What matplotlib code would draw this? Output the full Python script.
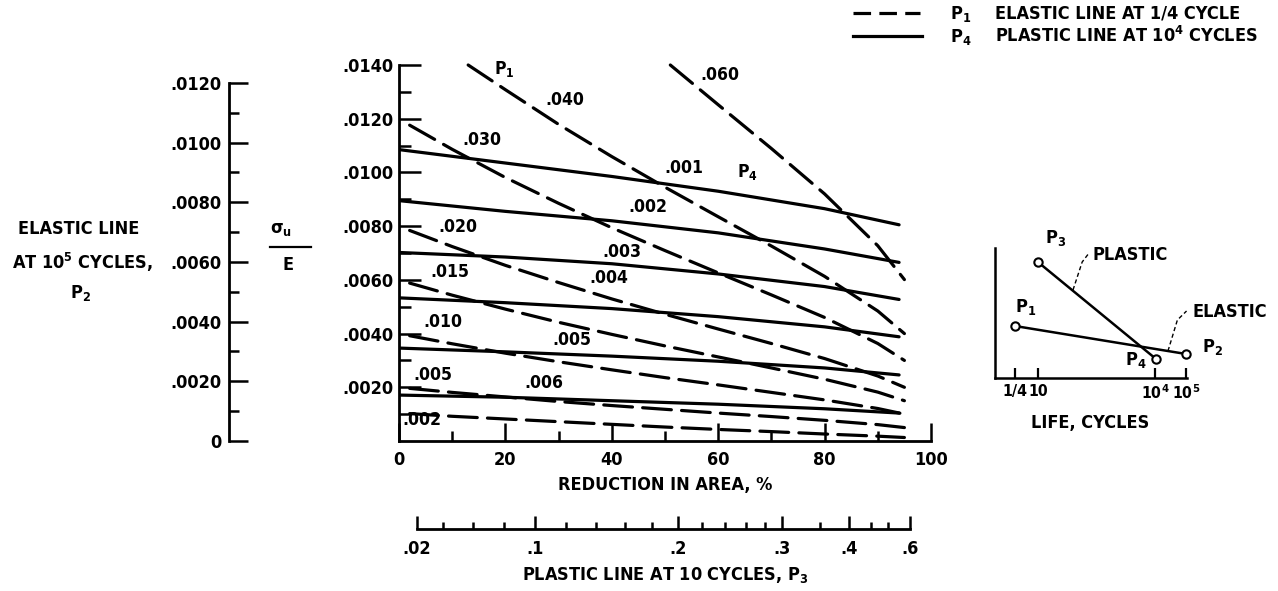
import os
import numpy as np
import matplotlib
matplotlib.use("Agg")
import matplotlib.pyplot as plt
from matplotlib import font_manager as fm
from matplotlib.lines import Line2D

# ---------------- data ----------------
# Dashed lines: P1, elastic line at 1/4 cycle (x = reduction in area %, y = sigma_u/E)
ra_elastic = [2, 10, 20, 30, 40, 50, 60, 70, 80, 90, 95]
p1_002 = [0.00102, 0.00092, 0.00082, 0.00072, 0.00062, 0.00052, 0.00043, 0.00035, 0.00026, 0.00018, 0.00013]
p1_005 = [0.00196, 0.00181, 0.00164, 0.00147, 0.00132, 0.00118, 0.00104, 0.00091, 0.00077, 0.00061, 0.00050]
p1_010 = [0.00392, 0.00362, 0.00327, 0.00295, 0.00265, 0.00236, 0.00209, 0.00181, 0.00153, 0.00121, 0.00100]
p1_015 = [0.00588, 0.00543, 0.00491, 0.00442, 0.00397, 0.00354, 0.00313, 0.00272, 0.00230, 0.00182, 0.00150]
p1_020 = [0.00784, 0.00724, 0.00654, 0.00590, 0.00529, 0.00472, 0.00417, 0.00363, 0.00307, 0.00242, 0.00200]
p1_030 = [0.01176, 0.01086, 0.00981, 0.00885, 0.00794, 0.00709, 0.00626, 0.00544, 0.00460, 0.00363, 0.00300]
ra_p1_040 = [13, 20, 30, 40, 50, 60, 70, 80, 90, 95]
p1_040 = [0.01400, 0.01308, 0.01179, 0.01059, 0.00945, 0.00835, 0.00726, 0.00613, 0.00484, 0.00400]
ra_p1_060 = [51, 60, 70, 80, 90, 95]
p1_060 = [0.01400, 0.01252, 0.01089, 0.00920, 0.00727, 0.00601]

# Solid lines: P4, plastic line at 10^4 cycles
ra_plastic = [0, 20, 40, 60, 80, 94]
p4_001 = [0.01085, 0.01035, 0.00985, 0.00930, 0.00865, 0.00805]
p4_002 = [0.00895, 0.00855, 0.00820, 0.00775, 0.00715, 0.00665]
p4_003 = [0.00702, 0.00685, 0.00660, 0.00622, 0.00575, 0.00527]
p4_004 = [0.00533, 0.00515, 0.00493, 0.00463, 0.00425, 0.00388]
p4_005 = [0.00346, 0.00332, 0.00316, 0.00297, 0.00272, 0.00246]
p4_006 = [0.00171, 0.00163, 0.00150, 0.00137, 0.00120, 0.00104]

elastic_names = ['.002', '.005', '.010', '.015', '.020', '.030', '.040', '.060']
plastic_names = ['.001', '.002', '.003', '.004', '.005', '.006']

# axes ticks
x_ticks = [0, 20, 40, 60, 80, 100]
x_tick_labels = ['0', '20', '40', '60', '80', '100']
x_minor = [10, 30, 50, 70, 90]
y_ticks = [0.002, 0.004, 0.006, 0.008, 0.010, 0.012, 0.014]
y_tick_labels = ['.0020', '.0040', '.0060', '.0080', '.0100', '.0120', '.0140']
y_minor = [0.001, 0.003, 0.005, 0.007, 0.009, 0.011, 0.013]
p2_ticks = [0, 0.002, 0.004, 0.006, 0.008, 0.010, 0.012]
p2_tick_labels = ['0', '.0020', '.0040', '.0060', '.0080', '.0100', '.0120']
p2_minor = [0.001, 0.003, 0.005, 0.007, 0.009, 0.011]
p3_ticks = [0.02, 0.1, 0.2, 0.3, 0.4, 0.6]
p3_tick_labels = ['.02', '.1', '.2', '.3', '.4', '.6']
p3_minor = [0.04, 0.06, 0.08, 0.12, 0.14, 0.16, 0.18, 0.22, 0.24, 0.26, 0.28, 0.35, 0.45, 0.5]

# inset schematic
life_labels = ['1/4', '10', '10$^4$', '10$^5$']
life_pos = [0.87, 1.87, 6.97, 8.33]
elastic_x = [0.87, 8.33]
elastic_y = [5.2, 2.4]
plastic_x = [1.87, 7.02]
plastic_y = [11.6, 1.9]

# ---------------- fonts: prefer a bold condensed sans ----------------
entries = fm.fontManager.ttflist
FAMILY, STRETCH, FS = ['DejaVu Sans'], 'normal', 11.8
candidates = [
    ('dejavusanscondensed-bold', 13.0),
    ('liberationsansnarrow-bold', 15.0),
    ('robotocondensed-bold', 14.0),
    ('notosans-condensedbold', 13.5),
    ('opensans-condensedbold', 13.5),
    ('opensans_condensed-bold', 13.5),
]
chosen = None
for key, size in candidates:
    for e in entries:
        base = os.path.splitext(os.path.basename(e.fname))[0].lower()
        if base == key:
            chosen = (e, size)
            break
    if chosen:
        break
if chosen:
    e, size = chosen
    FAMILY, STRETCH, FS = [e.name, 'DejaVu Sans'], e.stretch, size

plt.rcParams['font.family'] = FAMILY
plt.rcParams['font.stretch'] = STRETCH
plt.rcParams['font.weight'] = 'bold'
plt.rcParams['axes.labelweight'] = 'bold'
plt.rcParams['font.size'] = FS
plt.rcParams['mathtext.default'] = 'regular'

W, H = 1278, 591
fig = plt.figure(figsize=(W / 100, H / 100), dpi=100)
fig.patch.set_facecolor('white')


def fx(px):
    return px / W


def fy(py):
    return 1 - py / H


def T(x, y, s, ha='left', va='baseline', **kw):
    fig.text(fx(x), fy(y), s, ha=ha, va=va, color='black', **kw)


LW = 2.3
# ---------------- main axes ----------------
L, R, B, TOP = 399, 931, 441, 65
ax = fig.add_axes([fx(L), fy(B), fx(R) - fx(L), fy(TOP) - fy(B)])
ax.set_xlim(0, 100)
ax.set_ylim(0, 0.014)
ax.patch.set_alpha(0)
for s in ['top', 'right']:
    ax.spines[s].set_visible(False)
for s in ['left', 'bottom']:
    ax.spines[s].set_linewidth(2.0)

for ra, vals in [(ra_elastic, p1_002), (ra_elastic, p1_005), (ra_elastic, p1_010),
                 (ra_elastic, p1_015), (ra_elastic, p1_020), (ra_elastic, p1_030),
                 (ra_p1_040, p1_040), (ra_p1_060, p1_060)]:
    ax.plot(ra, vals, color='black', lw=LW, dashes=(9, 3.2), dash_capstyle='round', clip_on=False)
for vals in [p4_001, p4_002, p4_003, p4_004, p4_005, p4_006]:
    ax.plot(ra_plastic, vals, color='black', lw=LW, solid_capstyle='round')

ax.set_xticks(x_ticks, labels=x_tick_labels)
ax.set_xticks(x_minor, minor=True)
ax.set_yticks(y_ticks, labels=y_tick_labels)
ax.set_yticks(y_minor, minor=True)
ax.tick_params(axis='x', which='major', direction='in', length=13, width=1.8, pad=7)
ax.tick_params(axis='x', which='minor', direction='in', length=7, width=1.8)
ax.tick_params(axis='y', which='major', direction='in', length=16, width=1.8, pad=4)
ax.tick_params(axis='y', which='minor', direction='in', length=8.5, width=1.8)
ax.set_xlabel('REDUCTION IN AREA, %', labelpad=5)

# curve labels (layout positions in data coordinates)
label_layout = [
    ('P$_1$', 19.7, 0.01385), ('.040', 31.2, 0.01270), ('.060', 60.3, 0.01363),
    ('.030', 15.6, 0.01121), ('.001', 53.6, 0.01016), ('P$_4$', 65.4, 0.01002),
    ('.002', 46.8, 0.00871), ('.020', 11.1, 0.00797), ('.003', 41.9, 0.00704),
    ('.015', 9.6, 0.00629), ('.004', 39.5, 0.00607), ('.010', 8.3, 0.00443),
    ('.005', 32.5, 0.00376), ('.005', 6.4, 0.00246), ('.006', 27.3, 0.00216),
    ('.002', 4.3, 0.00078),
]
for s, x, y in label_layout:
    ax.text(x, y, s, ha='center', va='center', fontsize=FS * 0.97)


# ---------------- P2 axis (elastic line at 1e5 cycles = 0.9 sigma_u/E) ----------------
sec_y = ax.secondary_yaxis((229 - L) / (R - L), functions=(lambda s: 0.9 * s, lambda p: p / 0.9))
sec_y.set_yticks(p2_ticks, labels=p2_tick_labels)
sec_y.set_yticks(p2_minor, minor=True)
sec_y.spines['left'].set_bounds(0, 0.012)
sec_y.spines['left'].set_linewidth(2.0)
sec_y.tick_params(which='major', direction='in', length=13.5, width=1.8, pad=5.5)
sec_y.tick_params(which='minor', direction='in', length=7, width=1.8)


# ---------------- P3 axis (plastic line at 10 cycles) ----------------
def ra_to_p3(ra):
    ra = np.clip(np.asarray(ra, dtype=float), 0.0, 99.999)
    return 0.25 * np.log(100.0 / (100.0 - ra)) ** 0.75


def p3_to_ra(p):
    p = np.clip(np.asarray(p, dtype=float), 0.0, None)
    return 100.0 * (1.0 - np.exp(-(4.0 * p) ** (4.0 / 3.0)))


sec_x = ax.secondary_xaxis((B - 529) / (B - TOP), functions=(ra_to_p3, p3_to_ra))
sec_x.set_xticks(p3_ticks, labels=p3_tick_labels)
sec_x.set_xticks(p3_minor, minor=True)
sec_x.spines['bottom'].set_bounds(0.02, 0.6)
sec_x.spines['bottom'].set_linewidth(2.0)
sec_x.tick_params(which='major', direction='in', length=9.5, width=1.8, pad=8)
sec_x.tick_params(which='minor', direction='in', length=5, width=1.8)
sec_x.xaxis.set_minor_formatter(matplotlib.ticker.NullFormatter())
sec_x.set_xlabel('PLASTIC LINE AT 10 CYCLES, P$_3$', labelpad=5)

# ---------------- left texts ----------------
T(79, 234, 'ELASTIC LINE', ha='center')
T(82, 269, 'AT 10$^5$ CYCLES,', ha='center')
T(80, 298, 'P$_2$', ha='center')
T(270, 233, r'$\sigma_u$', ha='left')
fig.add_artist(Line2D([fx(270), fx(311)], [fy(247), fy(247)], transform=fig.transFigure,
                      color='black', lw=1.6))
T(283, 270, 'E', ha='left')

# ---------------- legend ----------------
fig.add_artist(Line2D([fx(853), fx(920)], [fy(13), fy(13)], transform=fig.transFigure,
                      color='black', lw=LW, dashes=(5.5, 2.6)))
fig.add_artist(Line2D([fx(853), fx(922)], [fy(36), fy(36)], transform=fig.transFigure,
                      color='black', lw=LW))
T(950, 19, 'P$_1$')
T(995, 19, 'ELASTIC LINE AT 1/4 CYCLE')
T(950, 42, 'P$_4$')
T(995, 42, 'PLASTIC LINE AT 10$^4$ CYCLES')

# ---------------- inset ----------------
axi = fig.add_axes([fx(995), fy(378), fx(1190) - fx(995), fy(248) - fy(378)])
axi.set_xlim(0, 8.5)
axi.set_ylim(0, 13)
axi.patch.set_alpha(0)
for s in ['top', 'right']:
    axi.spines[s].set_visible(False)
axi.spines['left'].set_linewidth(1.8)
axi.spines['bottom'].set_linewidth(1.8)
axi.spines['bottom'].set_bounds(0, 8.35)
axi.set_yticks([])
axi.set_xticks(life_pos, labels=life_labels)
axi.tick_params(axis='x', direction='in', length=7, width=1.6, pad=4, labelsize=FS * 0.88)
axi.plot(elastic_x, elastic_y, color='black', lw=1.8, marker='o', ms=6, mfc='white', mew=1.5, clip_on=False)
axi.plot(plastic_x, plastic_y, color='black', lw=1.8, marker='o', ms=6, mfc='white', mew=1.5, clip_on=False)
# leader lines
axi.plot([3.40, 3.80, 4.10], [8.8, 11.6, 12.5], color='black', lw=1.0, ls=(0, (3, 2)), clip_on=False)
axi.plot([7.54, 7.95, 8.35], [2.7, 5.8, 6.7], color='black', lw=1.0, ls=(0, (3, 2)), clip_on=False)

T(1045, 243, 'P$_3$')
T(1015, 312, 'P$_1$')
T(1125, 365, 'P$_4$')
T(1202, 352, 'P$_2$')
T(1093, 260, 'PLASTIC')
T(1192, 317, 'ELASTIC')
T(1090, 428, 'LIFE, CYCLES', ha='center')

fig.savefig('out.png', dpi=100, facecolor='white')
